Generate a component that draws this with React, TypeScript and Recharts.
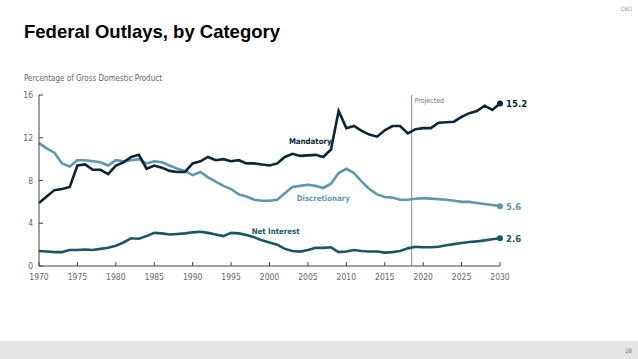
import React from 'react';
import {
  LineChart,
  Line,
  XAxis,
  YAxis,
  ReferenceLine,
  ReferenceDot,
} from 'recharts';

const years = [
  1970, 1971, 1972, 1973, 1974, 1975, 1976, 1977, 1978, 1979,
  1980, 1981, 1982, 1983, 1984, 1985, 1986, 1987, 1988, 1989,
  1990, 1991, 1992, 1993, 1994, 1995, 1996, 1997, 1998, 1999,
  2000, 2001, 2002, 2003, 2004, 2005, 2006, 2007, 2008, 2009,
  2010, 2011, 2012, 2013, 2014, 2015, 2016, 2017, 2018, 2019,
  2020, 2021, 2022, 2023, 2024, 2025, 2026, 2027, 2028, 2029, 2030,
];

const mandatory = [
  5.9, 6.5, 7.1, 7.2, 7.4, 9.4, 9.5, 9.0, 9.0, 8.6,
  9.4, 9.7, 10.2, 10.4, 9.1, 9.4, 9.2, 8.9, 8.8, 8.8,
  9.6, 9.8, 10.2, 9.9, 10.0, 9.8, 9.9, 9.6, 9.6, 9.5,
  9.4, 9.6, 10.2, 10.5, 10.3, 10.35, 10.4, 10.2, 10.9, 14.5,
  12.9, 13.1, 12.65, 12.3, 12.1, 12.7, 13.1, 13.1, 12.4, 12.8,
  12.9, 12.9, 13.4, 13.45, 13.5, 13.95, 14.3, 14.5, 15.0, 14.6, 15.2,
];

const discretionary = [
  11.5, 11.0, 10.6, 9.6, 9.3, 9.9, 9.9, 9.8, 9.7, 9.4,
  9.9, 9.8, 9.9, 10.0, 9.6, 9.8, 9.7, 9.4, 9.1, 8.9,
  8.5, 8.8, 8.3, 7.9, 7.5, 7.2, 6.7, 6.5, 6.2, 6.1,
  6.1, 6.2, 6.8, 7.4, 7.5, 7.6, 7.5, 7.3, 7.7, 8.7,
  9.1, 8.7, 7.9, 7.2, 6.7, 6.45, 6.4, 6.2, 6.2, 6.3,
  6.35, 6.3, 6.25, 6.2, 6.1, 6.0, 6.0, 5.9, 5.8, 5.7, 5.6,
];

const netInterest = [
  1.4, 1.35, 1.3, 1.3, 1.5, 1.5, 1.55, 1.5, 1.6, 1.7,
  1.9, 2.2, 2.6, 2.55, 2.8, 3.1, 3.05, 2.95, 3.0, 3.05,
  3.15, 3.2, 3.1, 2.95, 2.8, 3.1, 3.05, 2.9, 2.7, 2.4,
  2.2, 2.0, 1.6, 1.4, 1.35, 1.5, 1.7, 1.7, 1.75, 1.3,
  1.35, 1.5, 1.4, 1.35, 1.35, 1.25, 1.3, 1.4, 1.65, 1.8,
  1.75, 1.75, 1.8, 1.95, 2.05, 2.15, 2.25, 2.3, 2.4, 2.5, 2.6,
];

const xTicks = [1970, 1975, 1980, 1985, 1990, 1995, 2000, 2005, 2010, 2015, 2020, 2025, 2030];
const yTicks = [0, 4, 8, 12, 16];

const data = years.map((year, i) => ({
  year,
  mandatory: mandatory[i],
  discretionary: discretionary[i],
  netInterest: netInterest[i],
}));

const C_MAND = '#0d2535';
const C_DISC = '#5f97ad';
const C_NET = '#1b5667';
const AXIS = '#444';
const NARROW = '"Liberation Sans Narrow", "DejaVu Sans Condensed", Arial, sans-serif';

const lastIdx = years.length - 1;

// only the last point gets a dot
const endDot = (color: string) => (props: any) => {
  if (props.index !== lastIdx) return <g key={props.key} />;
  return <circle key={props.key} cx={props.cx} cy={props.cy} r={3} fill={color} />;
};

const XTick = ({ x, y, payload }: any) => (
  <g>
    <line x1={x} x2={x} y1={y - 6} y2={y - 10} stroke={AXIS} strokeWidth={1} />
    <text x={x} y={y + 8} textAnchor="middle" fill="#666" fontSize={8.5} fontFamily={NARROW}>
      {payload.value}
    </text>
  </g>
);

const YTick = ({ x, y, payload }: any) => (
  <g>
    <line x1={x + 6} x2={x + 10} y1={y} y2={y} stroke={AXIS} strokeWidth={1} />
    <text x={x} y={y} dy={3} textAnchor="end" fill="#666" fontSize={8.5} fontFamily={NARROW}>
      {payload.value}
    </text>
  </g>
);

const lineLabel = (text: string, color: string, size = 7.8) => (props: any) => {
  const { viewBox } = props;
  return (
    <text
      x={viewBox.x}
      y={viewBox.y}
      dy={3}
      textAnchor="middle"
      fill={color}
      fontSize={size}
      fontWeight={700}
      fontFamily={NARROW}
    >
      {text}
    </text>
  );
};

const endLabel = (text: string, color: string) => (props: any) => {
  const { viewBox } = props;
  return (
    <text
      x={viewBox.x + 6}
      y={viewBox.y}
      dy={3.5}
      textAnchor="start"
      fill={color}
      fontSize={9.5}
      fontWeight={700}
      fontFamily={NARROW}
    >
      {text}
    </text>
  );
};

export default function App() {
  return (
    <div
      style={{
        position: 'absolute',
        left: 0,
        top: 0,
        width: 638,
        height: 359,
        background: '#fff',
        fontFamily: 'Arial, "Liberation Sans", sans-serif',
      }}
    >
      <div style={{ position: 'absolute', right: 6, top: 5, fontSize: 6, color: '#999', fontFamily: NARROW }}>
        CBO
      </div>
      <div
        style={{
          position: 'absolute',
          left: 24,
          top: 21,
          fontSize: 18.5,
          fontWeight: 700,
          color: '#000',
          fontFamily: '"Liberation Sans", Arial, sans-serif',
        }}
      >
        Federal Outlays, by Category
      </div>
      <div style={{ position: 'absolute', left: 24, top: 74, fontSize: 8, color: '#666', fontFamily: NARROW }}>
        Percentage of Gross Domestic Product
      </div>

      <div style={{ position: 'absolute', left: 0, top: 0 }}>
        <LineChart
          width={638}
          height={359}
          data={data}
          margin={{ top: 95, right: 138, bottom: 73, left: 19 }}
        >
          <XAxis
            dataKey="year"
            type="number"
            domain={[1970, 2030]}
            ticks={xTicks}
            interval={0}
            height={20}
            tickSize={0}
            tickMargin={6}
            tickLine={false}
            axisLine={{ stroke: AXIS, strokeWidth: 1 }}
            tick={<XTick />}
          />
          <YAxis
            type="number"
            domain={[0, 16]}
            ticks={yTicks}
            width={20}
            tickSize={0}
            tickMargin={6}
            tickLine={false}
            axisLine={{ stroke: AXIS, strokeWidth: 1 }}
            tick={<YTick />}
          />
          <ReferenceLine
            x={2018.5}
            stroke="#8a8a8a"
            strokeWidth={1}
            label={{
              value: 'Projected',
              position: 'insideTopLeft',
              offset: 3,
              fill: '#777',
              fontSize: 7,
              fontFamily: NARROW,
            }}
          />
          <Line
            dataKey="discretionary"
            stroke={C_DISC}
            strokeWidth={2.6}
            dot={endDot(C_DISC)}
            activeDot={false}
            isAnimationActive={false}
          />
          <Line
            dataKey="netInterest"
            stroke={C_NET}
            strokeWidth={2.6}
            dot={endDot(C_NET)}
            activeDot={false}
            isAnimationActive={false}
          />
          <Line
            dataKey="mandatory"
            stroke={C_MAND}
            strokeWidth={2.6}
            dot={endDot(C_MAND)}
            activeDot={false}
            isAnimationActive={false}
          />
          <ReferenceDot x={2005.3} y={11.7} r={0} label={lineLabel('Mandatory', C_MAND)} />
          <ReferenceDot x={2007} y={6.35} r={0} label={lineLabel('Discretionary', C_DISC)} />
          <ReferenceDot x={2000.8} y={3.27} r={0} label={lineLabel('Net Interest', C_NET)} />
          <ReferenceDot x={2030} y={15.2} r={0} label={endLabel('15.2', C_MAND)} />
          <ReferenceDot x={2030} y={5.6} r={0} label={endLabel('5.6', C_DISC)} />
          <ReferenceDot x={2030} y={2.6} r={0} label={endLabel('2.6', C_NET)} />
        </LineChart>
      </div>

      <div
        style={{
          position: 'absolute',
          left: 0,
          top: 341,
          width: 638,
          height: 18,
          background: '#e4e4e4',
        }}
      >
        <div style={{ position: 'absolute', right: 6, top: 6, fontSize: 6, color: '#777', fontFamily: NARROW }}>28</div>
      </div>
    </div>
  );
}
